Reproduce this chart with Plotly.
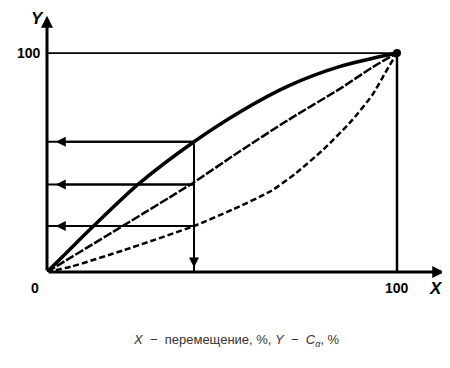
import plotly.graph_objects as go

# values (X = displacement %, Y = C %)
upper_x = [0, 6, 13, 26, 42, 55, 69, 84, 100]
upper_y = [0, 9.5, 20.5, 40, 59.5, 73, 85, 94, 100]

middle_x = [0, 37, 42, 55, 69, 84, 93, 100]
middle_y = [0, 36, 41, 55, 69.5, 84, 93.5, 100]

lower_x = [0, 7, 22, 42, 53, 64, 71, 79, 87, 93, 97, 100]
lower_y = [0, 2.5, 10, 21, 28.5, 37, 45, 56, 69, 81, 92, 100]

read_x = 42
read_levels = [59.5, 40, 21]

x_max = 100
y_max = 100

fig = go.Figure()

# frame lines: top thin line and right vertical at 100
fig.add_trace(go.Scatter(x=[0, x_max], y=[y_max, y_max], mode="lines",
                         line=dict(color="black", width=1.8)))
fig.add_trace(go.Scatter(x=[x_max, x_max], y=[0, y_max], mode="lines",
                         line=dict(color="black", width=2.5)))

# curves
fig.add_trace(go.Scatter(x=lower_x, y=lower_y, mode="lines",
                         line=dict(color="black", width=2.5, dash="6px,3px",
                                   shape="spline", smoothing=0.6)))
fig.add_trace(go.Scatter(x=middle_x, y=middle_y, mode="lines",
                         line=dict(color="black", width=2.5, dash="9px,2px",
                                   shape="spline", smoothing=0.8)))
fig.add_trace(go.Scatter(x=upper_x, y=upper_y, mode="lines",
                         line=dict(color="black", width=3.5,
                                   shape="spline", smoothing=0.8)))

# reading lines
for level in read_levels:
    fig.add_trace(go.Scatter(x=[0, read_x], y=[level, level], mode="lines",
                             line=dict(color="black", width=2)))
    fig.add_annotation(x=2.5, y=level, ax=read_x, ay=level, axref="x", ayref="y",
                       xref="x", yref="y", text="", showarrow=True,
                       arrowhead=2, arrowsize=1, arrowwidth=2, arrowcolor="black")
fig.add_trace(go.Scatter(x=[read_x, read_x], y=[read_levels[0], 0], mode="lines",
                         line=dict(color="black", width=2)))
fig.add_annotation(x=read_x, y=2, ax=read_x, ay=read_levels[0], axref="x", ayref="y",
                   xref="x", yref="y", text="", showarrow=True,
                   arrowhead=2, arrowsize=1, arrowwidth=2, arrowcolor="black")

# end point dot
fig.add_trace(go.Scatter(x=[x_max], y=[y_max], mode="markers",
                         marker=dict(color="black", size=8)))

# axes with arrows
fig.add_annotation(x=113.5, y=0, ax=0, ay=0, axref="x", ayref="y", xref="x", yref="y",
                   text="", showarrow=True, arrowhead=2, arrowsize=0.8,
                   arrowwidth=3, arrowcolor="black")
fig.add_annotation(x=0, y=117, ax=0, ay=0, axref="x", ayref="y", xref="x", yref="y",
                   text="", showarrow=True, arrowhead=2, arrowsize=0.8,
                   arrowwidth=3, arrowcolor="black")

label_font = dict(family="Liberation Sans", size=14, color="black")
letter_font = dict(family="Liberation Sans", size=17, color="black")
fig.add_annotation(x=0, y=y_max, text="<b>100</b>", showarrow=False, xanchor="right",
                   xshift=-4, font=label_font)
fig.add_annotation(x=0, y=0, text="<b>0</b>", showarrow=False, xanchor="right",
                   yanchor="top", xshift=-6, yshift=-6, font=label_font)
fig.add_annotation(x=x_max, y=0, text="<b>100</b>", showarrow=False,
                   yanchor="top", yshift=-6, font=label_font)
fig.add_annotation(x=0, y=116, text="<b><i>Y</i></b>", showarrow=False, xanchor="right",
                   xshift=-1, font=letter_font)
fig.add_annotation(x=111, y=0, text="<b><i>X</i></b>", showarrow=False,
                   yanchor="top", yshift=-5, font=letter_font)

fig.add_annotation(xref="paper", yref="paper", x=0.476, y=-0.31, showarrow=False,
                   text="<i>X</i>  −  перемещение, %, <i>Y</i>  −  <i>C</i><sub><i>α</i></sub>, %",
                   font=dict(family="Liberation Sans", size=13, color="#333333"))

# the page body adds an 8 px offset, so the figure is 8 px smaller on each side
fig.update_layout(
    width=442, height=360,
    margin=dict(l=39, r=4, t=10, b=96, autoexpand=False),
    plot_bgcolor="white", paper_bgcolor="white",
    showlegend=False,
    xaxis=dict(range=[0, 114], visible=False, fixedrange=True),
    yaxis=dict(range=[0, 116], visible=False, fixedrange=True),
)

fig.write_html("out.html")
